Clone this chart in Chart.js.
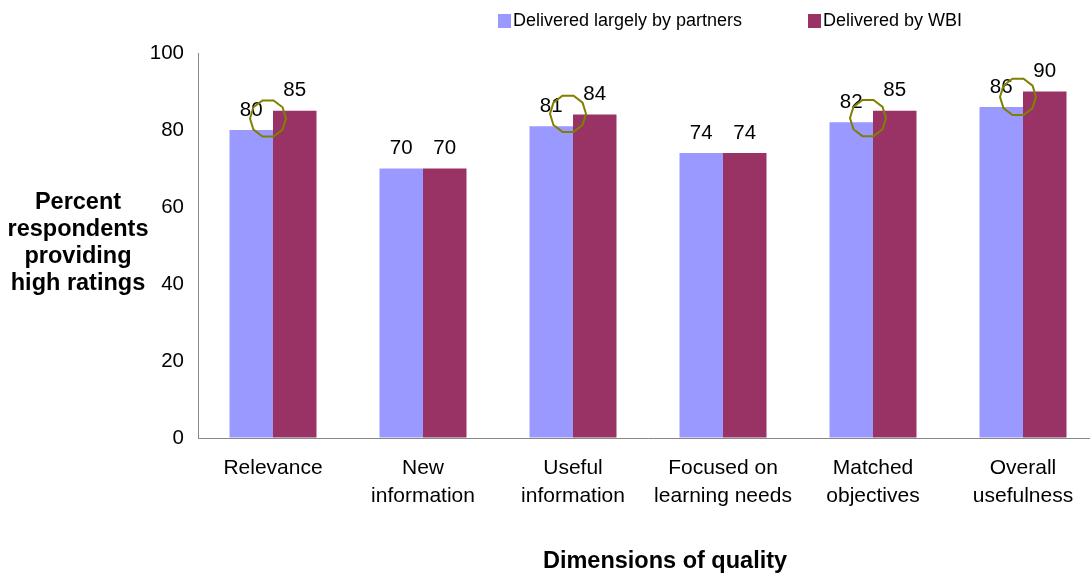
<!DOCTYPE html>
<html>
<head>
<meta charset="utf-8">
<script src="https://cdn.jsdelivr.net/npm/chart.js@4/dist/chart.umd.min.js"></script>
<style>
  html, body { margin: 0; padding: 0; background: #fff; overflow: hidden; }
  #wrap { width: 1100px; height: 576px; }
</style>
</head>
<body>
<div id="wrap"><canvas id="myChart" width="1100" height="576"></canvas></div>
<script>
const categories = [
    ['Relevance'],
    ['New', 'information'],
    ['Useful', 'information'],
    ['Focused on', 'learning needs'],
    ['Matched', 'objectives'],
    ['Overall', 'usefulness']
];
const partners = [80, 70, 81, 74, 82, 86];
const wbi = [85, 70, 84, 74, 85, 90];
const seriesNames = ['Delivered largely by partners', 'Delivered by WBI'];
const yTicks = [0, 20, 40, 60, 80, 100];

// hand-drawn circles on the chart (category index, value at centre)
const circleCats = [0, 2, 4, 5];
const circleVals = [83, 84.2, 83.1, 88.6];

const FONT = 'Liberation Sans, Arial, sans-serif';
const colors = ['#9999ff', '#993366'];

const extras = {
    id: 'extras',
    afterDraw(chart) {
        const ctx = chart.ctx;
        const x = chart.scales.x, y = chart.scales.y;
        ctx.save();

        // value labels above bars
        ctx.font = '20.5px ' + FONT;
        ctx.fillStyle = '#000';
        ctx.textAlign = 'center';
        ctx.textBaseline = 'middle';
        chart.data.datasets.forEach((ds, i) => {
            chart.getDatasetMeta(i).data.forEach((bar, j) => {
                ctx.fillText(String(ds.data[j]), bar.x, bar.y - 20);
            });
        });

        // circles
        ctx.strokeStyle = '#808000';
        ctx.lineWidth = 2;
        circleCats.forEach((c, k) => {
            const cx = x.getPixelForValue(c) - 5;
            const cy = y.getPixelForValue(circleVals[k]);
            ctx.beginPath();
            for (let s = 0; s <= 10; s++) {
                const a = s / 10 * Math.PI * 2;
                const px = cx + 18 * Math.cos(a), py = cy + 19 * Math.sin(a);
                if (s === 0) ctx.moveTo(px, py); else ctx.lineTo(px, py);
            }
            ctx.closePath();
            ctx.stroke();
        });

        // legend
        ctx.font = '18px ' + FONT;
        ctx.textAlign = 'left';
        const lx = [498, 808];
        seriesNames.forEach((name, i) => {
            ctx.fillStyle = colors[i];
            ctx.fillRect(lx[i], 14, 13, 14);
            ctx.fillStyle = '#000';
            ctx.fillText(name, lx[i] + 15, 21);
        });

        // axis titles
        ctx.font = 'bold 23.5px ' + FONT;
        ctx.textAlign = 'center';
        ['Percent', 'respondents', 'providing', 'high ratings'].forEach((t, i) => {
            ctx.fillText(t, 78, 203 + i * 27);
        });
        ctx.font = 'bold 23.5px ' + FONT;
        ctx.fillText('Dimensions of quality', 665, 562);
        ctx.restore();
    }
};

const ctx = document.getElementById('myChart').getContext('2d');

new Chart(ctx, {
    type: 'bar',
    data: {
        labels: categories,
        datasets: [{
            label: seriesNames[0],
            data: partners,
            backgroundColor: colors[0]
        }, {
            label: seriesNames[1],
            data: wbi,
            backgroundColor: colors[1]
        }]
    },
    options: {
        responsive: false,
        animation: false,
        layout: { padding: { top: 53, right: 2, left: 0, bottom: 0 } },
        datasets: {
            bar: { categoryPercentage: 0.58, barPercentage: 1.0 }
        },
        plugins: {
            legend: { display: false },
            tooltip: { enabled: false }
        },
        scales: {
            x: {
                grid: { color: 'rgba(0,0,0,0)', drawTicks: false },
                border: { color: '#888', width: 1 },
                ticks: {
                    color: '#000',
                    font: { family: FONT, size: 21, lineHeight: 1.33 },
                    padding: 16,
                    maxRotation: 0,
                    autoSkip: false
                },
                afterFit(scale) { scale.height = 138; }
            },
            y: {
                min: 0,
                max: 100,
                grid: { color: 'rgba(0,0,0,0)', drawTicks: false },
                border: { color: '#888', width: 1 },
                afterBuildTicks(scale) {
                    scale.ticks = yTicks.map(v => ({ value: v }));
                },
                ticks: {
                    color: '#000',
                    font: { family: FONT, size: 20.5 },
                    padding: 14
                },
                afterFit(scale) { scale.width = 198; }
            }
        }
    },
    plugins: [extras]
});
</script>
</body>
</html>
